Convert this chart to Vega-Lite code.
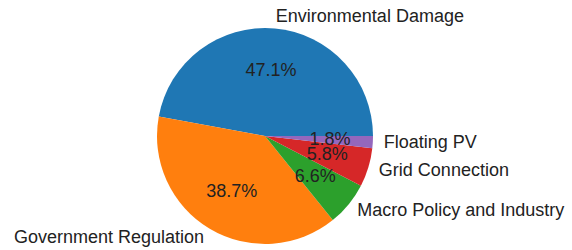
{
  "$schema": "https://vega.github.io/schema/vega-lite/v6.json",
  "width": 530,
  "height": 228,
  "autosize": {"type": "none"},
  "padding": {"left": 0, "top": 22, "right": 42, "bottom": 0},
  "background": "white",
  "view": {"stroke": null},
  "data": {
    "values": [
      {"category": "Environmental Damage", "share": 0.471},
      {"category": "Government Regulation", "share": 0.387},
      {"category": "Macro Policy and Industry", "share": 0.066},
      {"category": "Grid Connection", "share": 0.058},
      {"category": "Floating PV", "share": 0.018}
    ]
  },
  "encoding": {
    "theta": {"field": "share", "type": "quantitative", "stack": true, "scale": {"range": [1.5707963, -4.712389]}},
    "order": {"field": "share", "type": "quantitative", "sort": "descending"}
  },
  "layer": [
    {
      "mark": {"type": "arc", "outerRadius": 108},
      "encoding": {
        "color": {
          "field": "category",
          "type": "nominal",
          "legend": null,
          "scale": {
            "domain": ["Environmental Damage", "Government Regulation", "Macro Policy and Industry", "Grid Connection", "Floating PV"],
            "range": ["#1f77b4", "#ff7f0e", "#2ca02c", "#d62728", "#9467bd"]
          }
        }
      }
    },
    {
      "mark": {"type": "text", "radius": 65, "font": "Liberation Sans", "fontSize": 18, "color": "#222", "baseline": "middle", "align": "center"},
      "encoding": {"text": {"field": "share", "type": "quantitative", "format": ".1%"}}
    },
    {
      "mark": {"type": "text", "radius": 119, "font": "Liberation Sans", "fontSize": 18, "color": "#222", "baseline": "middle",
        "align": {"expr": "datum.category === 'Government Regulation' ? 'right' : 'left'"}},
      "encoding": {"text": {"field": "category", "type": "nominal"}}
    }
  ]
}
